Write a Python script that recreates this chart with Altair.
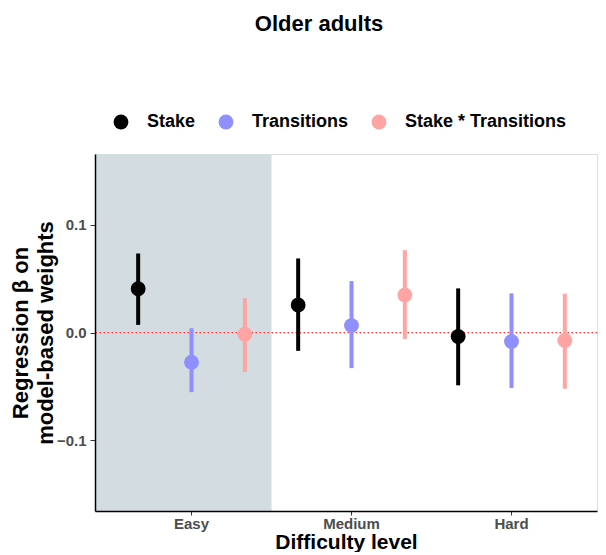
import altair as alt
import pandas as pd

difficulty = ["Easy", "Medium", "Hard"]
terms = ["Stake", "Transitions", "Stake * Transitions"]
colors = ["#000000", "#8F8FFF", "#FFA3A3"]

# estimates per term, in difficulty order
est_stake = [0.0407, 0.0256, -0.0037]
lo_stake = [0.0071, -0.0170, -0.0490]
hi_stake = [0.0734, 0.0688, 0.0410]

est_trans = [-0.0275, 0.0065, -0.0083]
lo_trans = [-0.0553, -0.0330, -0.0515]
hi_trans = [0.0040, 0.0478, 0.0364]

est_inter = [-0.0016, 0.0349, -0.0074]
lo_inter = [-0.0367, -0.0059, -0.0521]
hi_inter = [0.0318, 0.0765, 0.0361]

rows = []
for term, est, lo, hi in [
    (terms[0], est_stake, lo_stake, hi_stake),
    (terms[1], est_trans, lo_trans, hi_trans),
    (terms[2], est_inter, lo_inter, hi_inter),
]:
    for d, e, l, h in zip(difficulty, est, lo, hi):
        rows.append({"difficulty": d, "term": term, "est": e, "lo": l, "hi": h})
df = pd.DataFrame(rows)

FONT = "Liberation Sans"
W, H = 502, 357

xscale = alt.Scale(domain=difficulty, paddingInner=0, paddingOuter=0.06875, align=0.75)
yscale = alt.Scale(domain=[-0.1657, 0.1658], nice=False, zero=False)
cscale = alt.Scale(domain=terms, range=colors)

xaxis = alt.Axis(
    title="Difficulty level", labelAngle=0, zindex=1,
    labelFont=FONT, labelFontSize=15, labelFontWeight="bold", labelColor="#4D4D4D",
    labelPadding=1, tickSize=4, tickColor="#333333", tickWidth=1,
    domainColor="#000000", domainWidth=1.5,
    titleFont=FONT, titleFontSize=21, titleFontWeight="bold", titleColor="#000000",
    titleBaseline="alphabetic", titleX=W / 2, titleY=37, titleAlign="center",
)
yaxis = alt.Axis(
    title=["Regression β on", "model-based weights"], values=[-0.1, 0.0, 0.1], format=".1f",
    zindex=1, grid=False,
    labelFont=FONT, labelFontSize=15, labelFontWeight="bold", labelColor="#4D4D4D",
    labelPadding=4, tickSize=5, tickColor="#333333", tickWidth=1,
    domainColor="#000000", domainWidth=1.5,
    titleFont=FONT, titleFontSize=22, titleFontWeight="bold", titleColor="#000000",
    titleLineHeight=25, titleBaseline="alphabetic", titleX=-68, titleY=H / 2,
    titleAlign="center",
)

shade_df = pd.DataFrame({"difficulty": ["Easy"]})
shade = alt.Chart(shade_df).mark_rect(color="#D3DCE0").encode(
    x=alt.X("difficulty:N", bandPosition=1, scale=xscale, sort=difficulty, axis=xaxis),
    x2=alt.value(0),
)

zero = alt.Chart(shade_df).mark_rule(color="#FF3030", strokeDash=[1.5, 2.5], strokeWidth=1.2).encode(
    y=alt.datum(0.0),
)

base = alt.Chart(df).encode(
    x=alt.X("difficulty:N", scale=xscale, axis=xaxis, sort=difficulty),
    xOffset=alt.XOffset("term:N", sort=terms, scale=alt.Scale(domain=terms, paddingInner=0, paddingOuter=0)),
    color=alt.Color("term:N", scale=cscale, sort=terms, legend=alt.Legend(
        title=None, orient="none", direction="horizontal", legendX=17, legendY=-41,
        symbolType="circle", symbolSize=220, symbolStrokeWidth=0, symbolOpacity=1,
        labelFont=FONT, labelFontSize=18, labelFontWeight="bold", labelColor="#000000",
        labelOffset=17, columnPadding=21, padding=0, labelLimit=400,
    )),
)

bars = base.mark_rule(strokeWidth=4).encode(
    y=alt.Y("lo:Q", scale=yscale, axis=yaxis),
    y2="hi:Q",
)
points = base.mark_point(filled=True, size=220, opacity=1, shape="circle").encode(
    y=alt.Y("est:Q", scale=yscale, axis=yaxis),
)

chart = alt.layer(shade, zero, bars, points).properties(
    width=W, height=H,
    title=alt.TitleParams("Older adults", font=FONT, fontSize=22, fontWeight="bold",
                          color="#000000", anchor="middle", frame="group", dx=-27, offset=77),
    padding={"left": 1, "top": 5, "right": 0, "bottom": 0},
).configure_view(stroke=None).configure(background="#FFFFFF")

chart.save("out.html", embed_options={"renderer": "svg", "actions": False})
